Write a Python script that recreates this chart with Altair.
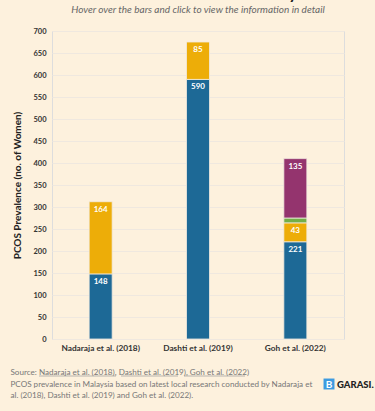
import altair as alt
import pandas as pd

studies = ["Nadaraja et al. (2018)", "Dashti et al. (2019)", "Goh et al. (2022)"]
groups = ["Group A", "Group B", "Group C", "Group D"]
colors = ["#1D6996", "#EDAD08", "#73AF48", "#94346E"]
nadaraja = [148, 164, 0, 0]
dashti = [590, 85, 0, 0]
goh = [221, 43, 11, 135]
y_ticks = [0, 50, 100, 150, 200, 250, 300, 350, 400, 450, 500, 550, 600, 650, 700]
label_min = 20

rows = []
for s, vals in zip(studies, [nadaraja, dashti, goh]):
    for i, (g, v) in enumerate(zip(groups, vals)):
        if v > 0:
            rows.append({"study": s, "group": g, "value": v, "order": i,
                         "label": str(v) if v >= label_min else ""})
df = pd.DataFrame(rows)

FONT = "Lato"
W, H = 292, 308

base = alt.Chart(df).transform_window(
    cum="sum(value)", groupby=["study"], sort=[alt.SortField("order")]
)

x_axis = alt.Axis(title=["Source: Nadaraja et al. (2018), Dashti et al. (2019), Goh et al. (2022)",
                         "PCOS prevalence in Malaysia based on latest local research conducted by Nadaraja et",
                         "al. (2018), Dashti et al. (2019) and Goh et al. (2022)."],
                  titleFont=FONT, titleFontSize=8.1, titleFontWeight="normal", titleColor="#777777",
                  titleAnchor="start", titleAlign="left", titleBaseline="top",
                  titleX=-42, titleY=29.5, titleLineHeight=11.5,
                  labelAngle=0, labelFont=FONT, labelFontSize=8.3, labelFontWeight="bold",
                  labelColor="#333333", labelPadding=4, ticks=False, domain=False, grid=False)
y_axis = alt.Axis(title="PCOS Prevalence (no. of Women)", titleFont=FONT, titleFontSize=10,
                  titleFontWeight="bold", titleColor="#222222", titlePadding=10,
                  values=y_ticks, labelOverlap=False, labelFont=FONT,
                  labelFontSize=7.5, labelFontWeight="bold", labelColor="#333333",
                  labelPadding=6, ticks=False, domain=False, gridColor="#efe8df", gridWidth=1)
x_scale = alt.Scale(paddingInner=0.0, paddingOuter=0.0)
y_scale = alt.Scale(domain=[0, 700], nice=False)

bars = base.mark_bar(size=23, stroke="#f3ebe0", strokeWidth=0.8).encode(
    x=alt.X("study:N", sort=studies, scale=x_scale, axis=x_axis),
    y=alt.Y("value:Q", stack="zero", scale=y_scale, axis=y_axis),
    color=alt.Color("group:N", scale=alt.Scale(domain=groups, range=colors), legend=None),
    order=alt.Order("order:Q"),
)

labels = base.mark_text(color="white", font=FONT, fontSize=8, fontWeight="bold",
                        baseline="top", dy=4).encode(
    x=alt.X("study:N", sort=studies, scale=x_scale, axis=x_axis),
    y=alt.Y("cum:Q", scale=y_scale, axis=y_axis),
    text="label:N",
)

one = pd.DataFrame({"t": ["GARASI."], "b": ["B"]})

# source underlines (decoration under the three linked references)
link_spans = [(-13, 64), (69, 126), (132, 193)]
links = [alt.Chart(one).mark_rule(color="#999999", strokeWidth=0.7).encode(
    x=alt.value(a), x2=alt.value(b), y=alt.value(H + 37)) for a, b in link_spans]

logo_box = alt.Chart(one).mark_square(color="#3d9be0", size=120, opacity=1).encode(
    x=alt.value(277), y=alt.value(H + 45))
logo_b = alt.Chart(one).mark_text(color="white", font=FONT, fontSize=10, fontWeight="bold").encode(
    x=alt.value(277), y=alt.value(H + 45.5), text="b:N")
logo_t = alt.Chart(one).mark_text(color="#222222", font=FONT, fontSize=9.5,
                                  fontWeight=900, align="left").encode(
    x=alt.value(285), y=alt.value(H + 45.5), text="t:N")

chart = alt.layer(bars, labels, *links, logo_box, logo_b, logo_t).properties(
    width=W, height=H,
    autosize=alt.AutoSizeParams(type="none"),
    padding={"left": 52, "top": 31, "right": 31, "bottom": 72},
    background="#fdf1dd",
    title=alt.TitleParams(text="Prevalence of PCOS in Malaysia",
                          subtitle="Hover over the bars and click to view the information in detail",
                          font=FONT, fontSize=17, fontWeight="bold", color="#222222",
                          subtitleFont=FONT, subtitleFontSize=10, subtitleFontStyle="italic",
                          subtitleColor="#666666", anchor="middle", offset=11, subtitlePadding=2),
).configure_view(stroke=None).configure(font=FONT).configure_axisY(values=y_ticks, labelOverlap=False)

chart.save("out.html", embed_options={"renderer": "svg", "actions": False})
